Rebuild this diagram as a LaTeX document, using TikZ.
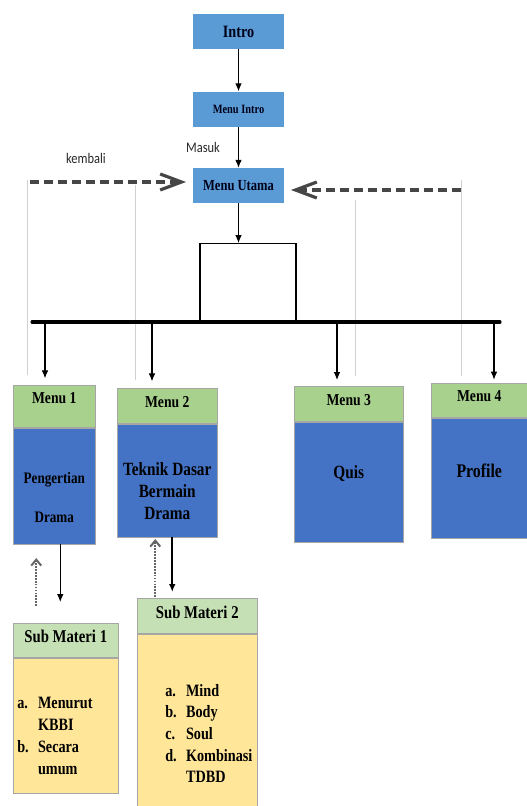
\documentclass[tikz,border=0pt]{standalone}
\usepackage{fontspec}
\setmainfont{Liberation Serif}[FakeStretch=0.82]
\newfontfamily\labelfont{Carlito}[FakeStretch=0.85]
\usetikzlibrary{arrows.meta,positioning}
\definecolor{topblue}{HTML}{5B9BD5}
\definecolor{menugreen}{HTML}{A9D18E}
\definecolor{menublue}{HTML}{4472C4}
\definecolor{subgreen}{HTML}{C5E0B4}
\definecolor{subyellow}{HTML}{FFE699}
\definecolor{backgray}{HTML}{464646}
\definecolor{linegray}{HTML}{D0D0D0}

\begin{document}
\begin{tikzpicture}[x=0.75pt, y=-0.75pt, node distance=31.5pt, auto]
\tikzset{
	    boxsize/.style 2 args={minimum width=#1*0.75pt, minimum height=#2*0.75pt},
	    mytopnode/.style={rectangle, fill=topblue, inner sep=0pt, text=black!90!blue},
	    myhead/.style={rectangle, draw=gray!70, fill=menugreen, inner sep=0pt, text depth=6pt, font=\bfseries\fontsize{12.5}{15}\selectfont},
	    mybody/.style={rectangle, draw=gray!70, fill=menublue, inner sep=0pt},
	    mysubhead/.style={rectangle, draw=gray!70, fill=subgreen, inner sep=0pt, text depth=6pt, font=\bfseries\fontsize{13.5}{16}\selectfont},
	    mysubbody/.style={rectangle, draw=gray!70, fill=subyellow, inner sep=0pt},
	    mytext/.style={align=center, inner sep=0pt},
	    mylist/.style={anchor=base west, inner sep=0pt, font=\bfseries},
	    myhub/.style={rectangle, draw=black, line width=1.1pt, inner sep=0pt},
	    mybus/.style={line width=2.3pt, line cap=round},
	    myarrow/.style={->, >={Latex[length=6pt,width=5pt]}, line width=0.8pt},
	    myback/.style={line width=2.4pt, draw=backgray, dash pattern=on 6.5pt off 4pt, -{Straight Barb[length=16pt,width=12pt]}, shorten >=5pt},
	    mydots/.style={line width=1.5pt, draw=gray!80!black, dash pattern=on 1.3pt off 0.9pt, -{Straight Barb[length=4.5pt,width=7.5pt]}},
	    mygrayline/.style={draw=linegray, line width=0.6pt},
	    mylabel/.style={inner sep=0pt, text=black!85, font=\labelfont\fontsize{11}{13}\selectfont}
	}
	\useasboundingbox (0,0) rectangle (527,806);

	% alur pembuka
	\node[mytopnode, boxsize={91}{35}, font=\bfseries\fontsize{13}{15}\selectfont] (intro) at (238.5,31.5) {Intro};
	\node[mytopnode, boxsize={91}{35}, font=\bfseries\fontsize{9.5}{11}\selectfont, below=of intro] (mintro) {Menu Intro};
	\node[mytopnode, boxsize={91}{35}, font=\bfseries\fontsize{11.5}{13}\selectfont, below=30.75pt of mintro] (mutama) {Menu Utama};
	\draw[myarrow] (intro) -- (mintro);
	\draw[myarrow] (mintro) -- (mutama);
	\node[mylabel] (masuk) at (203,147) {Masuk};
	\node[mylabel] (kembali) at (86,158) {kembali};

	% garis kembali
	\draw[mygrayline] (27,180) -- (27,375);
	\draw[mygrayline] (135,185) -- (135,380);
	\draw[mygrayline] (355,200) -- (355,376);
	\draw[mygrayline] (461,180) -- (461,376);
	\coordinate (kl) at (30,182);
	\coordinate (kr) at (461,190);
	\draw[myback] (kl) -- (kl -| mutama.west);
	\draw[myback] (kr) -- (kr -| mutama.east);

	% percabangan menu
	\node[myhub, boxsize={96}{78}, anchor=north] (hub) at (248,243) {};
	\draw[myarrow] (mutama.south) -- (mutama.south |- hub.north);
	\coordinate (busl) at (32,322);
	\coordinate (busr) at (500,322);
	\draw[mybus] (busl) -- (busr);

	\node[myhead, boxsize={82}{42}, text depth=12pt, anchor=north west] (m1head) at (13,385) {Menu 1};
	\node[mybody, boxsize={82}{116}, below=0pt of m1head,
	      label={[mytext, yshift=-9pt, font=\bfseries\fontsize{12}{14.4}\selectfont]center:{Pengertian\\[14.6pt]Drama}}] (m1body) {};
	\node[myhead, boxsize={100}{35}, anchor=north west] (m2head) at (117,388) {Menu 2};
	\node[mybody, boxsize={100}{113}, below=0pt of m2head,
	      label={[mytext, yshift=-8pt, font=\bfseries\fontsize{14}{16.5}\selectfont]center:{Teknik Dasar\\Bermain\\Drama}}] (m2body) {};
	\node[myhead, boxsize={109}{35}, anchor=north west] (m3head) at (294,386) {Menu 3};
	\node[mybody, boxsize={109}{120}, below=0pt of m3head,
	      label={[mytext, yshift=6.4pt, font=\bfseries\fontsize{14}{16.5}\selectfont]center:Quis}] (m3body) {};
	\node[myhead, boxsize={96}{34}, anchor=north west] (m4head) at (431,383) {Menu 4};
	\node[mybody, boxsize={96}{120}, below=0pt of m4head,
	      label={[mytext, yshift=5.6pt, font=\bfseries\fontsize{14.5}{17}\selectfont]center:Profile}] (m4body) {};

	\coordinate (b1) at (45,322);
	\coordinate (b2) at (152,322);
	\coordinate (b3) at (337,322);
	\coordinate (b4) at (494,322);
	\draw[myarrow, shorten >=5pt] (b1) -- (b1 |- m1head.north);
	\draw[myarrow, shorten >=5pt] (b2) -- (b2 |- m2head.north);
	\draw[myarrow, shorten >=4.5pt] (b3) -- (b3 |- m3head.north);
	\draw[myarrow, shorten >=2.5pt] (b4) -- (b4 |- m4head.north);

	% sub materi
	\node[mysubhead, boxsize={105}{34}, anchor=north west] (s1head) at (13,623) {Sub Materi 1};
	\node[mysubbody, boxsize={105}{135}, below=0pt of s1head] (s1body) {};
	\node[mysubhead, boxsize={120}{35}, anchor=north west] (s2head) at (137,598) {Sub Materi 2};
	\node[mysubbody, boxsize={120}{173}, below=0pt of s2head] (s2body) {};

	\node[mylist] (s1list) at (17,708) {\fontsize{13}{16.5}\selectfont
	  \begin{tabular}[t]{@{}l@{\hspace{7pt}}l@{}}
	  a. & Menurut\\ & KBBI\\ b. & Secara\\ & umum
	  \end{tabular}};
	\node[mylist] (s2list) at (165,696) {\fontsize{13}{16.3}\selectfont
	  \begin{tabular}[t]{@{}l@{\hspace{7pt}}l@{}}
	  a. & Mind\\ b. & Body\\ c. & Soul\\ d. & Kombinasi\\ & TDBD
	  \end{tabular}};

	\draw[myarrow, shorten >=15.75pt] ([xshift=4.5pt]m1body.south) -- ([xshift=4.5pt]m1body.south |- s1head.north);
	\draw[mydots, shorten <=12.75pt, shorten >=10.5pt] ([xshift=-13.5pt]m1body.south |- s1head.north) -- ([xshift=-13.5pt]m1body.south);
	\draw[myarrow, line width=1.2pt, shorten >=4.5pt] ([xshift=3.75pt]m2body.south) -- ([xshift=3.75pt]m2body.south |- s2head.north);
	\draw[mydots, shorten <=0.75pt, shorten >=1.5pt] ([xshift=-9pt]m2body.south |- s2head.north) -- ([xshift=-9pt]m2body.south);

\end{tikzpicture}
\end{document}
